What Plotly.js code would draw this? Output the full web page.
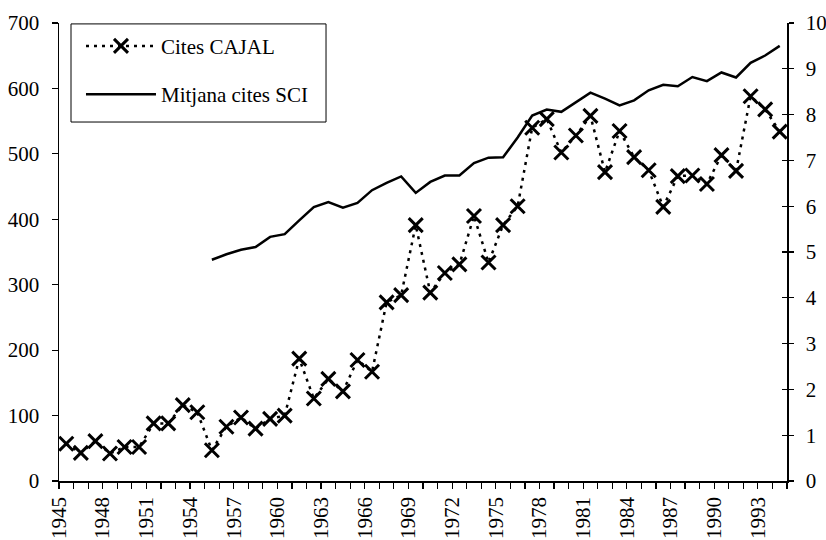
<!DOCTYPE html>
<html>
<head>
<meta charset="utf-8">
<script src="https://cdn.plot.ly/plotly-3.0.1.min.js"></script>
<style>
html,body{margin:0;padding:0;background:#fff;}
#chart{width:826px;height:540px;}
</style>
</head>
<body>
<div id="chart"></div>
<script>
// Categories (years)
const years = [1945,1946,1947,1948,1949,1950,1951,1952,1953,1954,
               1955,1956,1957,1958,1959,1960,1961,1962,1963,1964,
               1965,1966,1967,1968,1969,1970,1971,1972,1973,1974,
               1975,1976,1977,1978,1979,1980,1981,1982,1983,1984,
               1985,1986,1987,1988,1989,1990,1991,1992,1993,1994];

// Cites CAJAL (left axis)
const citesCajal = [57,43,61,42,52,52,88,88,116,105,
                    47,83,97,80,95,100,187,126,156,137,
                    185,167,273,284,391,288,318,331,405,334,
                    391,420,540,553,502,528,558,472,535,495,
                    475,419,466,467,454,498,474,588,568,534];

// Mitjana cites SCI (right axis)
const mitjanaSCI = [null,null,null,null,null,null,null,null,null,null,
                    4.83,4.95,5.05,5.11,5.33,5.39,5.69,5.98,6.09,5.97,
                    6.07,6.35,6.51,6.65,6.29,6.53,6.67,6.67,6.94,7.06,
                    7.07,7.50,7.98,8.11,8.06,8.28,8.48,8.35,8.20,8.31,
                    8.53,8.65,8.62,8.82,8.73,8.92,8.81,9.13,9.29,9.50];

const seriesNames = ["Cites CAJAL", "Mitjana cites SCI"];

// tick positions at category boundaries, label every third year
const boundaries = years.map(y => y - 0.5).concat([years[years.length-1] + 0.5]);
const tickLabels = boundaries.map((b, i) => (i < years.length && (years[i] - years[0]) % 3 === 0) ? String(years[i]) : "");

const FONT = "'Liberation Serif', 'DejaVu Serif', serif";

const traces = [
  {
    x: years, y: citesCajal, name: seriesNames[0],
    type: "scatter", mode: "lines+markers",
    line: {color: "#000", width: 2.5, dash: "3px,5px"},
    marker: {symbol: "x-thin", size: 14, color: "#000", line: {color: "#000", width: 3}},
    legendgroup: "a", yaxis: "y"
  },
  {
    x: years, y: mitjanaSCI, name: seriesNames[1],
    type: "scatter", mode: "lines",
    line: {color: "#000", width: 2.5},
    legendgroup: "b", yaxis: "y2"
  },
  {
    x: [], y: [], type: "scatter", mode: "lines", showlegend: false,
    hoverinfo: "skip", yaxis: "y3"
  }
];

const layout = {
  width: 826, height: 540,
  margin: {l: 59, r: 39, t: 23, b: 59},
  paper_bgcolor: "#fff", plot_bgcolor: "#fff",
  font: {family: FONT, size: 21, color: "#000"},
  showlegend: true,
  legend: {
    x: 0.0302, y: 0.994, xanchor: "left", yanchor: "top",
    bgcolor: "rgba(0,0,0,0)", borderwidth: 0,
    font: {family: FONT, size: 21, color: "#000"},
    itemwidth: 70, tracegroupgap: 18
  },
  shapes: [{
    type: "rect", xref: "paper", yref: "paper",
    x0: 0.0165, x1: 0.3668, y0: 0.7838, y1: 0.998,
    line: {color: "#000", width: 1}, fillcolor: "#fff", layer: "above"
  }],
  xaxis: {
    type: "linear", range: [years[0] - 0.5, years[years.length-1] + 0.5],
    tickmode: "array", tickvals: boundaries, ticktext: tickLabels,
    tickangle: -90, ticks: "outside", ticklen: 6, tickwidth: 1.2, tickcolor: "#000",
    showline: true, linecolor: "#000", linewidth: 1.5,
    showgrid: false, zeroline: false, ticklabelstandoff: 0,
    tickfont: {family: FONT, size: 21, color: "#000"}
  },
  yaxis: {
    range: [0, 700], dtick: 100, tick0: 0,
    ticks: "outside", ticklen: 6, tickwidth: 1.2, tickcolor: "#000",
    showline: true, linecolor: "#000", linewidth: 1.5,
    showgrid: false, zeroline: false, ticklabelstandoff: 8,
    tickfont: {family: FONT, size: 21, color: "#000"}
  },
  yaxis2: {
    range: [0, 10], dtick: 1, tick0: 0, overlaying: "y", side: "right", anchor: "x",
    ticks: "outside", ticklen: 5, tickwidth: 1.2, tickcolor: "#000",
    showline: true, linecolor: "#000", linewidth: 1.5,
    showgrid: false, zeroline: false, ticklabelstandoff: 8,
    tickfont: {family: FONT, size: 21, color: "#000"}
  },
  yaxis3: {
    range: [0, 10], dtick: 1, tick0: 0, overlaying: "y", side: "right", anchor: "x",
    ticks: "inside", ticklen: 5, tickwidth: 1.2, tickcolor: "#000",
    showticklabels: false, showline: false, showgrid: false, zeroline: false
  }
};

Plotly.newPlot("chart", traces, layout, {displayModeBar: false, staticPlot: true});
</script>
</body>
</html>
